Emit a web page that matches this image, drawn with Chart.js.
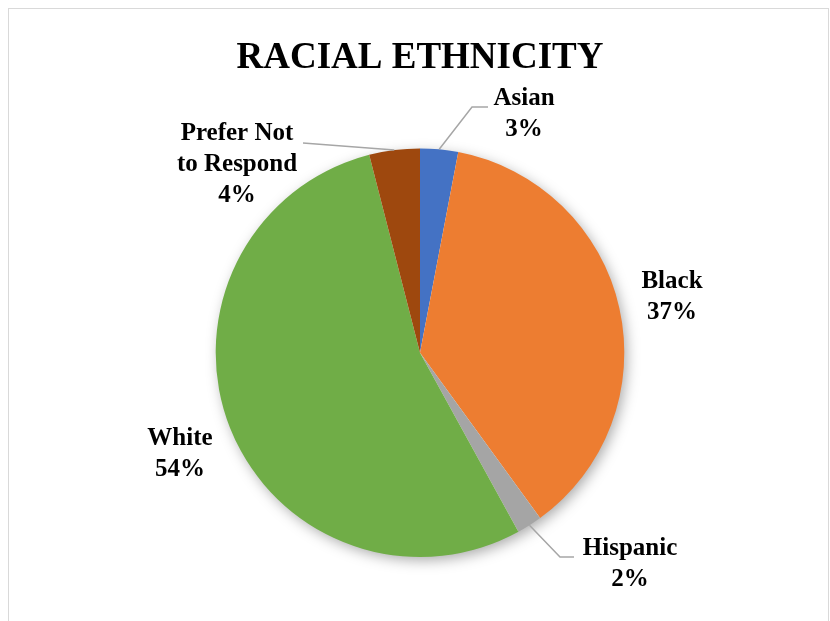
<!DOCTYPE html>
<html>
<head>
<meta charset="utf-8">
<script src="https://cdn.jsdelivr.net/npm/chart.js@4.4.1/dist/chart.umd.min.js"></script>
<style>
  html, body { margin: 0; padding: 0; background: #fff; }
  #wrap { width: 830px; height: 621px; }
</style>
</head>
<body>
<div id="wrap"><canvas id="racechart"></canvas></div>
<script>
const categories = ['Asian', 'Black', 'Hispanic', 'White', 'Prefer Not to Respond'];
const percents = [3, 37, 2, 54, 4];
const sliceColors = ['#4472C4', '#ED7D31', '#A5A5A5', '#70AD47', '#9E480E'];

// label text lines and where each label block sits (center x, first line y)
const labelLines = [['Asian'], ['Black'], ['Hispanic'], ['White'], ['Prefer Not', 'to Respond']];
const labelPos = [[524, 99], [672, 282], [630, 549], [180, 439], [237, 134]];
// leader line points after leaving the slice edge (null = no leader)
const leaders = [[[472, 107], [488, 107]], null, [[560, 557], [574, 557]], null, [[303, 143]]];

const serif = '"Liberation Serif", "Times New Roman", serif';

const framePlugin = {
    id: 'frame',
    beforeDraw(chart) {
        const ctx = chart.ctx;
        ctx.save();
        ctx.strokeStyle = '#d9d9d9';
        ctx.lineWidth = 1;
        ctx.strokeRect(8.5, 8.5, 820, 700);
        ctx.restore();
    }
};

// soft drop shadow under the pie
const shadowPlugin = {
    id: 'pieShadow',
    beforeDatasetsDraw(chart) {
        const arc = chart.getDatasetMeta(0).data[0];
        if (!arc) return;
        const ctx = chart.ctx;
        ctx.save();
        ctx.shadowColor = 'rgba(0,0,0,0.35)';
        ctx.shadowBlur = 14;
        ctx.shadowOffsetX = 3;
        ctx.shadowOffsetY = 4;
        ctx.fillStyle = '#ffffff';
        ctx.beginPath();
        ctx.arc(arc.x, arc.y, arc.outerRadius - 1, 0, Math.PI * 2);
        ctx.fill();
        ctx.restore();
    }
};

const labelPlugin = {
    id: 'sliceLabels',
    afterDatasetsDraw(chart) {
        const ctx = chart.ctx;
        const arcs = chart.getDatasetMeta(0).data;
        ctx.save();
        arcs.forEach((arc, i) => {
            const lead = leaders[i];
            if (lead) {
                const mid = (arc.startAngle + arc.endAngle) / 2;
                ctx.strokeStyle = '#a6a6a6';
                ctx.lineWidth = 1.5;
                ctx.beginPath();
                ctx.moveTo(arc.x + Math.cos(mid) * arc.outerRadius, arc.y + Math.sin(mid) * arc.outerRadius);
                lead.forEach(p => ctx.lineTo(p[0], p[1]));
                ctx.stroke();
            }
            const lines = labelLines[i].concat([percents[i] + '%']);
            ctx.fillStyle = '#000';
            ctx.font = 'bold 25px ' + serif;
            ctx.textAlign = 'center';
            ctx.textBaseline = 'middle';
            lines.forEach((t, k) => {
                ctx.fillText(t, labelPos[i][0], labelPos[i][1] + k * 31);
            });
        });
        ctx.restore();
    }
};

const ctx = document.getElementById('racechart').getContext('2d');
new Chart(ctx, {
    type: 'pie',
    data: {
        labels: categories,
        datasets: [{
            data: percents,
            backgroundColor: sliceColors,
            borderWidth: 0
        }]
    },
    options: {
        responsive: true,
        maintainAspectRatio: false,
        animation: false,
        layout: {
            padding: { top: 0, bottom: 64, left: 215, right: 205 }
        },
        plugins: {
            legend: { display: false },
            tooltip: { enabled: false },
            title: {
                display: true,
                text: 'RACIAL ETHNICITY',
                color: '#000',
                font: { family: serif, weight: 'bold', size: 37 },
                padding: { top: 36, bottom: 68 }
            }
        }
    },
    plugins: [framePlugin, shadowPlugin, labelPlugin]
});
</script>
</body>
</html>
